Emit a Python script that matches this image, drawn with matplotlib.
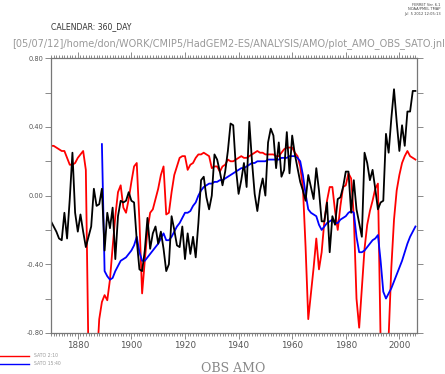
import numpy as np
import matplotlib
matplotlib.use("Agg")
import matplotlib.pyplot as plt
from matplotlib.ticker import MultipleLocator, FixedLocator

# annual values 1870-2006
years = np.arange(1870, 2007)

obs_amo = [
    -0.15, -0.18, -0.21, -0.25, -0.26, -0.10, -0.25, -0.02, 0.25, -0.10,   # 1870s
    -0.21, -0.11, -0.21, -0.30, -0.24, -0.18, 0.04, -0.06, -0.05, 0.04,    # 1880s
    -0.32, -0.10, -0.19, -0.07, -0.37, -0.12, -0.03, -0.04, -0.03, 0.02,   # 1890s
    -0.03, -0.04, -0.26, -0.43, -0.44, -0.32, -0.13, -0.31, -0.22, -0.18,  # 1900s
    -0.28, -0.21, -0.31, -0.44, -0.40, -0.12, -0.20, -0.29, -0.30, -0.18,  # 1910s
    -0.37, -0.22, -0.34, -0.24, -0.36, -0.16, 0.09, 0.11, -0.01, -0.08,    # 1920s
    0.00, 0.24, 0.21, 0.14, 0.06, 0.14, 0.26, 0.42, 0.41, 0.16,            # 1930s
    0.01, 0.09, 0.19, 0.05, 0.43, 0.20, 0.01, -0.09, 0.03, 0.10,           # 1940s
    0.00, 0.31, 0.39, 0.35, 0.16, 0.31, 0.11, 0.15, 0.37, 0.13,            # 1950s
    0.35, 0.24, 0.16, 0.08, 0.03, -0.03, 0.12, 0.05, -0.02, 0.16,          # 1960s
    0.03, -0.15, -0.15, -0.04, -0.33, -0.12, -0.17, -0.02, -0.01, 0.05,    # 1970s
    0.14, 0.14, -0.10, 0.09, -0.08, -0.16, -0.24, 0.25, 0.19, 0.09,        # 1980s
    0.15, 0.04, -0.08, -0.04, -0.03, 0.36, 0.25, 0.45, 0.62, 0.43,         # 1990s
    0.26, 0.41, 0.29, 0.49, 0.49, 0.61, 0.61,                              # 2000s
]

sato_2_10 = [
    0.29, 0.29, 0.28, 0.27, 0.26, 0.26, 0.22, 0.18, 0.18, 0.19,
    0.22, 0.24, 0.26, 0.15, -0.95, -1.20, -1.20, -1.00, -0.72, -0.62,
    -0.58, -0.61, -0.49, -0.30, -0.12, 0.02, 0.06, -0.07, -0.10, -0.02,
    0.08, 0.17, 0.19, -0.15, -0.57, -0.38, -0.20, -0.10, -0.08, -0.02,
    0.04, 0.12, 0.17, -0.11, -0.10, 0.02, 0.12, 0.17, 0.22, 0.23,
    0.23, 0.15, 0.18, 0.19, 0.22, 0.24, 0.24, 0.25, 0.24, 0.23,
    0.16, 0.17, 0.17, 0.14, 0.17, 0.18, 0.21, 0.20, 0.20, 0.21,
    0.22, 0.23, 0.22, 0.22, 0.23, 0.24, 0.25, 0.26, 0.25, 0.25,
    0.24, 0.24, 0.24, 0.24, 0.23, 0.23, 0.25, 0.27, 0.28, 0.28,
    0.28, 0.25, 0.23, 0.17, 0.05, -0.30, -0.72, -0.57, -0.42, -0.25,
    -0.43, -0.33, -0.15, -0.03, 0.05, 0.05, -0.09, -0.20, -0.06, 0.05,
    0.06, 0.13, 0.10, -0.12, -0.60, -0.77, -0.54, -0.31, -0.17, -0.09,
    -0.03, 0.04, 0.07, -0.85, -1.30, -1.20, -0.82, -0.42, -0.14, 0.03,
    0.12, 0.19, 0.23, 0.26, 0.23, 0.22, 0.21,
]

# SATO 15:40 starts in 1889
sato_15_40 = [np.nan] * 19 + [
    0.30,
    -0.44, -0.47, -0.49, -0.48, -0.44, -0.41, -0.38, -0.37, -0.36, -0.34,
    -0.32, -0.29, -0.24, -0.33, -0.38, -0.38, -0.36, -0.34, -0.32, -0.30,
    -0.28, -0.25, -0.22, -0.26, -0.26, -0.24, -0.21, -0.18, -0.16, -0.13,
    -0.10, -0.10, -0.09, -0.06, -0.04, 0.00, 0.03, 0.05, 0.06, 0.07,
    0.07, 0.08, 0.08, 0.09, 0.09, 0.10, 0.11, 0.12, 0.13, 0.14,
    0.15, 0.16, 0.16, 0.17, 0.18, 0.19, 0.19, 0.20, 0.20, 0.20,
    0.20, 0.21, 0.21, 0.21, 0.21, 0.21, 0.22, 0.22, 0.22, 0.23,
    0.23, 0.23, 0.22, 0.20, 0.12, 0.01, -0.08, -0.10, -0.11, -0.12,
    -0.17, -0.20, -0.18, -0.16, -0.15, -0.14, -0.16, -0.16, -0.14, -0.13,
    -0.12, -0.10, -0.09, -0.10, -0.24, -0.33, -0.33, -0.32, -0.30, -0.28,
    -0.26, -0.25, -0.23, -0.38, -0.56, -0.60, -0.57, -0.54, -0.50, -0.46,
    -0.42, -0.38, -0.33, -0.28, -0.24, -0.21, -0.18,
]

y_ticks = [-0.8, -0.4, 0.0, 0.4, 0.8]
y_labels = ["-0.80", "-0.40", "0.00", "0.40", "0.80"]
x_ticks = [1880, 1900, 1920, 1940, 1960, 1980, 2000]

fig = plt.figure(figsize=(4.45, 3.74), dpi=100)
ax = fig.add_axes([0.114, 0.110, 0.822, 0.734])

ax.plot(years, sato_2_10, color="#ff0000", lw=1.3)
ax.plot(years, sato_15_40, color="#0000ff", lw=1.3)
ax.plot(years, obs_amo, color="black", lw=1.3)

ax.set_xlim(1869.9, 2006.4)
ax.set_ylim(-0.8, 0.8)

ax.yaxis.set_major_locator(FixedLocator(y_ticks))
ax.set_yticklabels(y_labels)
ax.yaxis.set_minor_locator(MultipleLocator(0.2))
ax.xaxis.set_major_locator(FixedLocator(x_ticks))
ax.xaxis.set_minor_locator(MultipleLocator(1))

for s in ax.spines.values():
    s.set_color("#777777")
    s.set_linewidth(0.9)
ax.tick_params(which="both", direction="out", color="#777777", width=0.6,
               top=True, right=True)
ax.tick_params(axis="y", which="both", length=4)
ax.tick_params(axis="x", which="major", length=4)
ax.tick_params(axis="x", which="minor", length=2)
ax.tick_params(axis="y", labelsize=4.8, labelcolor="#555555", pad=1)
ax.tick_params(axis="x", labelsize=6.3, labelcolor="#555555", pad=2)

# header texts
fig.text(0.114, 0.928, "CALENDAR: 360_DAY", fontsize=5.6, color="#333333",
         ha="left", va="center")
fig.text(0.027, 0.884,
         "[05/07/12]/home/don/WORK/CMIP5/HadGEM2-ES/ANALYSIS/AMO/plot_AMO_OBS_SATO.jnl",
         fontsize=7.0, color="#999999", ha="left", va="center")
fig.text(0.99, 0.992, "FERRET Ver. 6.1\nNOAA/PMEL TMAP\nJul  5 2012 12:05:13",
         fontsize=2.6, color="#444444", ha="right", va="top", linespacing=1.1)

# legend at bottom left
fig.add_artist(plt.Line2D([0.0, 0.066], [0.049, 0.049], color="#ff0000", lw=1.0,
                          transform=fig.transFigure))
fig.add_artist(plt.Line2D([0.0, 0.066], [0.027, 0.027], color="#0000ff", lw=1.0,
                          transform=fig.transFigure))
fig.text(0.077, 0.049, "SATO 2:10", fontsize=3.3, color="#999999", va="center")
fig.text(0.077, 0.027, "SATO 15:40", fontsize=3.3, color="#999999", va="center")

fig.text(0.525, 0.006, "OBS AMO", fontsize=9, color="#888888", ha="center",
         va="baseline", family="DejaVu Serif")

fig.savefig("out.png", dpi=100)
